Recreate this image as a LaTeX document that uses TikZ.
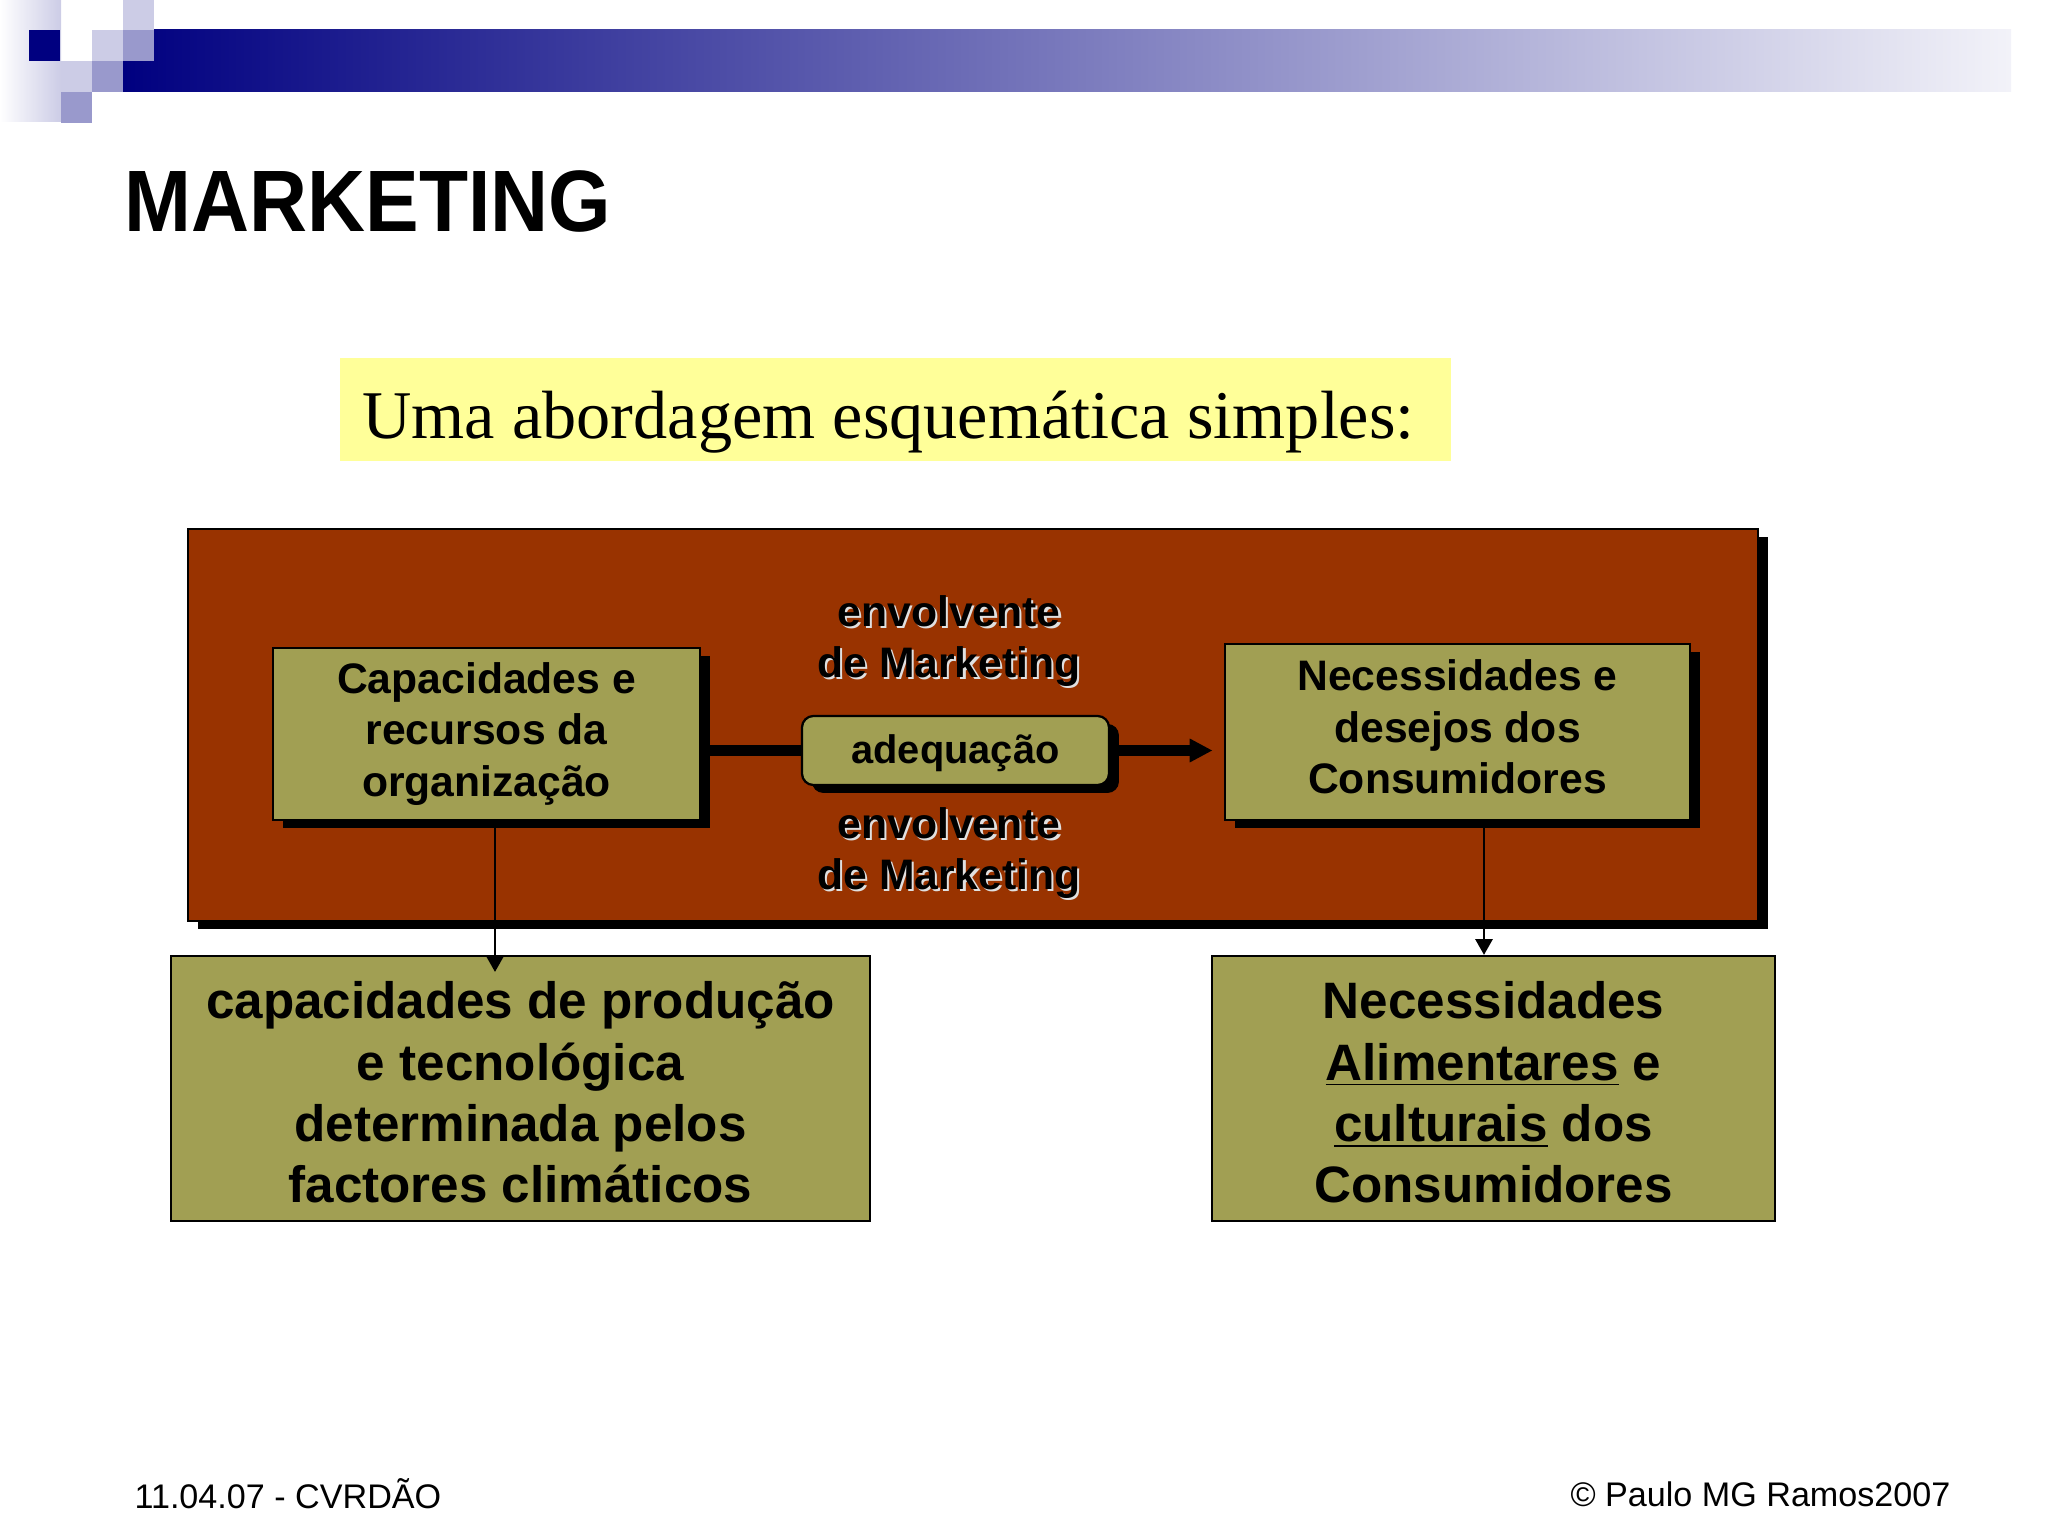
\documentclass[tikz,border=0pt]{standalone}
\usepackage{fontspec}
\setmainfont{Liberation Sans}
\newfontfamily\timesfont{Liberation Serif}
\usetikzlibrary{positioning,fit,shadows,arrows.meta}
\definecolor{navy}{HTML}{000080}
\definecolor{lavlight}{HTML}{CCCCE6}
\definecolor{lavmid}{HTML}{9999CC}
\definecolor{rust}{HTML}{993300}
\definecolor{boxolive}{HTML}{A19F53}
\definecolor{paleyellow}{HTML}{FFFF99}

\begin{document}
\begin{tikzpicture}[x=0.3515625pt, y=-0.3515625pt,
    olivebox/.style={draw=black, fill=boxolive, line width=0.8pt, inner sep=0pt},
    shadowbox/.style={olivebox, general shadow={shadow xshift=3.5pt, shadow yshift=-2.8pt, fill=black}},
    boxtext/.style={align=center, inner sep=0pt, font=\bfseries\fontsize{15}{18}\selectfont},
    bigtext/.style={boxtext, font=\bfseries\fontsize{18}{21.6}\selectfont},
    envlabel/.style={boxtext},
    thickline/.style={line width=3.6pt, draw=black},
    thinarrow/.style={line width=0.8pt, -{Triangle[length=5.5pt,width=6pt]}}]

\useasboundingbox (0,0) rectangle (2048,1536);

% header band
\shade[left color=white, right color=lavlight] (0,0) rectangle (61,122);
\shade[left color=navy, right color=white!95!navy] (123,30) rectangle (2011,92);
\foreach \x/\y/\c in {123/0/lavlight, 92/30/lavlight, 123/30/lavmid, 29/30/navy,
                      61/61/lavlight, 92/61/lavmid, 61/92/lavmid}
    \fill[\c] (\x,\y) rectangle ++(31,31);

\node[anchor=north west, inner sep=0pt] (logo) at (124,170)
    {\resizebox{171pt}{21.4pt}{\bfseries MARKETING}};

% heading
\node[fill=paleyellow, inner sep=0pt, fit={(340,358) (1451,461)}] (head) {};
\node[anchor=west, inner sep=0pt, yshift=-4.5pt, font=\timesfont\fontsize{24}{29}\selectfont] (headtext)
    at (head.center -| 362,0) {Uma abordagem esquemática simples:};

% environment
\node[shadowbox, fill=rust, fit={(188,529) (1758,921)}] (env) {};

\node[shadowbox, fit={(273,648) (700,820)}] (cap) {};
\node[boxtext] at (cap.center) {Capacidades e\\recursos da\\organização};
\node[shadowbox, fit={(1225,644) (1690,820)}] (nec) {};
\node[boxtext, yshift=1.8pt] at (nec.center) {Necessidades e\\desejos dos\\Consumidores};
\node[shadowbox, rounded corners=4pt, fit={(802,716) (1109,785)}] (adeq) {};
\node[boxtext, yshift=-1pt, font=\bfseries\fontsize{14}{17}\selectfont] at (adeq.center) {adequação};

% embossed labels
\node[envlabel, text=white!88!black, xshift=0.8pt, yshift=-0.8pt] at (949,641) {envolvente\\de Marketing};
\node[envlabel] (envtop) at (949,641) {envolvente\\de Marketing};
\node[envlabel, text=white!88!black, xshift=0.8pt, yshift=-0.8pt] at (949,853) {envolvente\\de Marketing};
\node[envlabel] (envbot) at (949,853) {envolvente\\de Marketing};

% lower boxes
\node[olivebox, fit={(171,956) (870,1221)}] (prod) {};
\node[bigtext, yshift=-1.4pt] at (prod.center)
    {capacidades de produção\\e tecnológica\\determinada pelos\\factores climáticos};
\node[olivebox, fit={(1212,956) (1775,1221)}] (food) {};
\node[bigtext, yshift=-1.4pt] at (food.center)
    {Necessidades\\\underline{Alimentares} e\\\underline{culturais} dos\\Consumidores};

% connectors
\draw[thickline] (cap.east |- adeq.west) -- (adeq.west);
\draw[thickline, -{Triangle[length=8pt,width=7.8pt]}, shorten >=4pt] (adeq.east) -- (adeq.east -| nec.west);
\draw[thinarrow, shorten >=-6pt] (cap.south -| 495,0) -- (prod.north -| 495,0);
\draw[thinarrow] (nec.south -| 1484,0) -- (food.north -| 1484,0);

% footer
\node[anchor=west, inner sep=0pt, font=\fontsize{12}{14}\selectfont] (date) at (134,1494) {11.04.07 - CVRDÃO};
\node[anchor=east, inner sep=0pt, font=\fontsize{12}{14}\selectfont] (copy) at (1951,1494) {© Paulo MG Ramos2007};

\end{tikzpicture}
\end{document}
